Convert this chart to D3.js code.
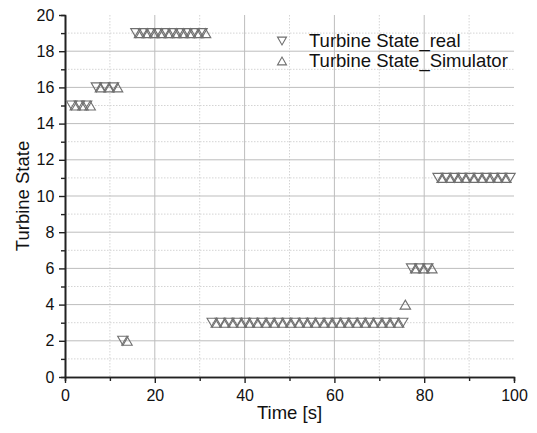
<!DOCTYPE html>
<html>
<head>
<meta charset="utf-8">
<script src="https://d3js.org/d3.v7.min.js"></script>
<style>
  body { margin: 0; background: #fff; }
  text { font-family: "Liberation Sans", Arial, sans-serif; fill: #111; }
</style>
</head>
<body>
<script>
// real turbine state (down triangles)
let realTime = [1.5, 3.2, 4.8, 7.0, 8.9, 10.8, 12.9,
  15.8, 17.4, 19.1, 20.7, 22.3, 24.0, 25.6, 27.2, 28.8, 30.5,
  32.8, 34.6, 36.5, 38.3, 40.2, 42.0, 43.9, 45.7, 47.5, 49.4, 51.2, 53.1,
  54.9, 56.8, 58.6, 60.4, 62.3, 64.1, 66.0, 67.8, 69.7, 71.5, 73.3, 75.2,
  77.2, 79.0, 80.8,
  83.1, 84.9, 86.7, 88.4, 90.2, 92.0, 93.8, 95.5, 97.3, 99.1];
let realState = [15, 15, 15, 16, 16, 16, 2,
  19, 19, 19, 19, 19, 19, 19, 19, 19, 19,
  3, 3, 3, 3, 3, 3, 3, 3, 3, 3, 3, 3,
  3, 3, 3, 3, 3, 3, 3, 3, 3, 3, 3, 3,
  6, 6, 6,
  11, 11, 11, 11, 11, 11, 11, 11, 11, 11];

// simulator turbine state (up triangles)
let simTime = [2.3, 4.0, 5.6, 7.9, 9.8, 11.7, 13.8,
  16.6, 18.3, 19.9, 21.5, 23.2, 24.8, 26.4, 28.0, 29.7, 31.3,
  33.7, 35.6, 37.4, 39.3, 41.1, 42.9, 44.8, 46.6, 48.5, 50.3, 52.2, 54.0,
  55.8, 57.7, 59.5, 61.4, 63.2, 65.1, 66.9, 68.7, 70.6, 72.4, 74.3,
  75.8,
  78.1, 79.9, 81.7,
  84.0, 85.8, 87.6, 89.3, 91.1, 92.9, 94.7, 96.4, 98.2];
let simState = [15, 15, 15, 16, 16, 16, 2,
  19, 19, 19, 19, 19, 19, 19, 19, 19, 19,
  3, 3, 3, 3, 3, 3, 3, 3, 3, 3, 3, 3,
  3, 3, 3, 3, 3, 3, 3, 3, 3, 3, 3,
  4,
  6, 6, 6,
  11, 11, 11, 11, 11, 11, 11, 11, 11];

let xTicks = [0, 20, 40, 60, 80, 100];
let yTicks = [0, 2, 4, 6, 8, 10, 12, 14, 16, 18, 20];
let seriesNames = ["Turbine State_real", "Turbine State_Simulator"];

let width = 537, height = 433;
let mLeft = 65, mRight = 514, mTop = 15, mBottom = 377;

let svg = d3.select("body").append("svg")
  .attr("width", width)
  .attr("height", height);

let x = d3.scaleLinear().domain([0, 100]).range([mLeft, mRight]);
let y = d3.scaleLinear().domain([0, 20]).range([mBottom, mTop]);

// grid
let grid = svg.append("g");
let xMinor = d3.range(10, 100, 20);
let yMinor = d3.range(1, 20, 2);

grid.selectAll(".vminor").data(xMinor).enter().append("line")
  .attr("x1", d => x(d)).attr("x2", d => x(d))
  .attr("y1", mTop).attr("y2", mBottom)
  .attr("stroke", "#d4d4d4").attr("stroke-dasharray", "1.5,1.5");
grid.selectAll(".hminor").data(yMinor).enter().append("line")
  .attr("x1", mLeft).attr("x2", mRight)
  .attr("y1", d => y(d)).attr("y2", d => y(d))
  .attr("stroke", "#d4d4d4").attr("stroke-dasharray", "1.5,1.5");
grid.selectAll(".vmajor").data(xTicks.slice(1, -1)).enter().append("line")
  .attr("x1", d => x(d)).attr("x2", d => x(d))
  .attr("y1", mTop).attr("y2", mBottom)
  .attr("stroke", "#bdbdbd");
grid.selectAll(".hmajor").data(yTicks.slice(1, -1)).enter().append("line")
  .attr("x1", mLeft).attr("x2", mRight)
  .attr("y1", d => y(d)).attr("y2", d => y(d))
  .attr("stroke", "#bdbdbd");

// axes
let xAxis = svg.append("g").attr("transform", "translate(0," + mBottom + ")")
  .call(d3.axisBottom(x).tickValues(xTicks).tickSize(6).tickSizeOuter(0));
let xAxisMinor = svg.append("g").attr("transform", "translate(0," + mBottom + ")")
  .call(d3.axisBottom(x).tickValues(xMinor).tickSize(4).tickFormat(""));
let yAxis = svg.append("g").attr("transform", "translate(" + mLeft + ",0)")
  .call(d3.axisLeft(y).tickValues(yTicks).tickSize(6).tickSizeOuter(0));
let yAxisMinor = svg.append("g").attr("transform", "translate(" + mLeft + ",0)")
  .call(d3.axisLeft(y).tickValues(yMinor).tickSize(4).tickFormat(""));

[xAxis, xAxisMinor, yAxis, yAxisMinor].forEach(function(a){
  a.selectAll(".domain").attr("stroke", "#222").attr("stroke-width", 1.6);
  a.selectAll(".tick line").attr("stroke", "#222").attr("stroke-width", 1.4);
  a.selectAll("text").attr("font-size", 16).attr("font-family", "'Liberation Sans', Arial, sans-serif").attr("fill", "#111");
});
xAxis.selectAll("text").attr("dy", "0.95em");
yAxis.selectAll("text").attr("dx", "-0.1em");

// markers
let w = 10.5, h = 9;
let downTri = "M" + (-w/2) + "," + (-h/2) + "L" + (w/2) + "," + (-h/2) + "L0," + (h/2) + "Z";
let upTri = "M" + (-w/2) + "," + (h/2) + "L" + (w/2) + "," + (h/2) + "L0," + (-h/2) + "Z";

let real = realTime.map((t, i) => [t, realState[i]]);
let sim = simTime.map((t, i) => [t, simState[i]]);

svg.append("g").selectAll("path").data(real).enter().append("path")
  .attr("d", downTri)
  .attr("transform", d => "translate(" + x(d[0]) + "," + y(d[1]) + ")")
  .attr("fill", "none").attr("stroke", "#707070").attr("stroke-width", 1.1);

svg.append("g").selectAll("path").data(sim).enter().append("path")
  .attr("d", upTri)
  .attr("transform", d => "translate(" + x(d[0]) + "," + y(d[1]) + ")")
  .attr("fill", "none").attr("stroke", "#707070").attr("stroke-width", 1.1);

// legend
let legend = svg.append("g");
let lw = 9, lh = 7.8;
legend.append("path")
  .attr("d", "M" + (-lw/2) + "," + (-lh/2) + "L" + (lw/2) + "," + (-lh/2) + "L0," + (lh/2) + "Z")
  .attr("transform", "translate(282,41)")
  .attr("fill", "none").attr("stroke", "#707070").attr("stroke-width", 1.1);
legend.append("path")
  .attr("d", "M" + (-lw/2) + "," + (lh/2) + "L" + (lw/2) + "," + (lh/2) + "L0," + (-lh/2) + "Z")
  .attr("transform", "translate(282,61)")
  .attr("fill", "none").attr("stroke", "#707070").attr("stroke-width", 1.1);
legend.selectAll("text").data(seriesNames).enter().append("text")
  .attr("x", 309).attr("y", (d, i) => 46.5 + i * 20)
  .attr("font-size", 18.5)
  .text(d => d);

// axis titles
svg.append("text")
  .attr("x", (mLeft + mRight) / 2).attr("y", 419)
  .attr("text-anchor", "middle").attr("font-size", 18.5)
  .text("Time [s]");
svg.append("text")
  .attr("transform", "translate(29," + ((mTop + mBottom) / 2) + ") rotate(-90)")
  .attr("text-anchor", "middle").attr("font-size", 18.5)
  .text("Turbine State");
</script>
</body>
</html>
